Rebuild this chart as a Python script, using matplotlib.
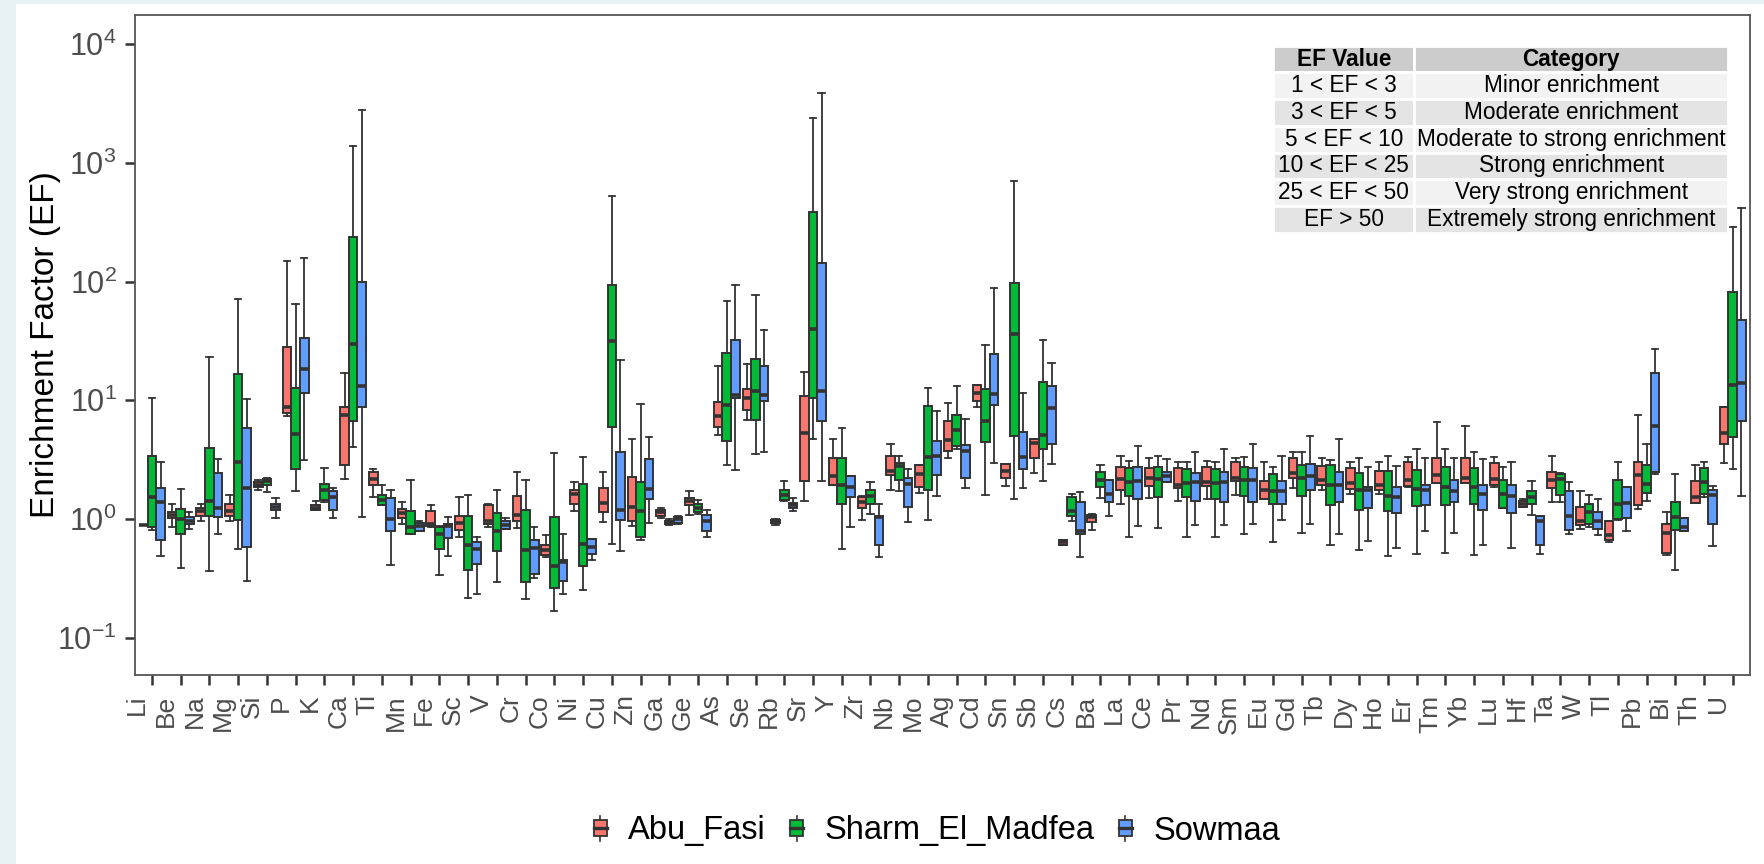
import matplotlib
matplotlib.use("Agg")
import matplotlib.pyplot as plt
from matplotlib.patches import Patch, Rectangle
from matplotlib.lines import Line2D
from matplotlib.legend_handler import HandlerBase
from matplotlib.ticker import LogLocator, NullLocator
import matplotlib.transforms as mtransforms

plt.rcParams['font.family'] = ['Liberation Sans', 'DejaVu Sans']
plt.rcParams['mathtext.fontset'] = 'custom'
plt.rcParams['mathtext.rm'] = 'Liberation Sans'
plt.rcParams['mathtext.it'] = 'Liberation Sans:italic'
plt.rcParams['mathtext.bf'] = 'Liberation Sans:bold'

elements = ["Li", "Be", "Na", "Mg", "Si", "P", "K", "Ca", "Ti", "Mn", "Fe", "Sc", "V", "Cr",
            "Co", "Ni", "Cu", "Zn", "Ga", "Ge", "As", "Se", "Rb", "Sr", "Y", "Zr", "Nb", "Mo",
            "Ag", "Cd", "Sn", "Sb", "Cs", "Ba", "La", "Ce", "Pr", "Nd", "Sm", "Eu", "Gd", "Tb",
            "Dy", "Ho", "Er", "Tm", "Yb", "Lu", "Hf", "Ta", "W", "Tl", "Pb", "Bi", "Th", "U"]

sites = ["Abu_Fasi", "Sharm_El_Madfea", "Sowmaa"]
site_colors = ["#F8766D", "#00BA38", "#619CFF"]

# Abu_Fasi: whisker low, Q1, median, Q3, whisker high
abu_lo = [0.89, 0.86, 0.96, 0.97, 1.77, 7.45, 1.20, 2.19, 1.53, 0.91, 0.86, 0.71, 0.86, 0.84,
          0.48, 1.16, 0.94, 0.875, 1.03, 1.09, 5.12, 6.81, 0.89, 1.43, 1.92, 0.98, 1.75, 1.66,
          3.28, 8.75, 1.90, 2.44, 0.61, 0.81, 1.34, 1.49, 1.43, 1.47, 1.59, 1.47, 1.84, 1.74,
          1.63, 1.63, 1.87, 2.01, 2.01, 1.87, 1.27, 1.39, 0.82, 0.64, 1.22, 0.50, 1.37, 2.97]
abu_q1 = [0.89, 1.03, 1.07, 1.07, 1.87, 7.79, 1.20, 2.84, 1.95, 1.02, 0.875, 0.81, 0.91, 0.97,
          0.50, 1.34, 1.14, 0.97, 1.07, 1.31, 5.96, 8.29, 0.93, 2.08, 1.92, 1.25, 2.33, 1.87,
          3.71, 9.91, 2.23, 3.25, 0.61, 0.94, 1.74, 1.90, 1.84, 1.90, 2.08, 1.47, 2.23, 1.95,
          1.79, 1.74, 1.90, 2.01, 2.01, 1.95, 1.27, 1.82, 0.89, 0.67, 1.31, 0.52, 1.37, 4.25]
abu_med = [0.89, 1.09, 1.17, 1.17, 1.95, 8.75, 1.25, 7.59, 2.19, 1.12, 0.91, 0.93, 0.97, 1.09,
           0.55, 1.63, 1.37, 1.27, 1.14, 1.43, 7.45, 10.5, 0.955, 5.35, 2.29, 1.40, 2.55, 2.40,
           4.64, 11.6, 2.55, 4.36, 0.64, 1.05, 2.19, 2.23, 1.95, 2.04, 2.23, 1.74, 2.44, 2.13,
           2.01, 1.95, 2.13, 2.33, 2.23, 2.19, 1.34, 2.13, 0.97, 0.73, 2.33, 0.765, 1.53, 5.35]
abu_q3 = [0.89, 1.14, 1.25, 1.34, 2.04, 27.9, 1.31, 8.75, 2.49, 1.22, 1.16, 1.07, 1.31, 1.56,
          0.60, 1.74, 1.84, 2.27, 1.20, 1.49, 9.73, 12.5, 0.98, 10.8, 3.25, 1.53, 3.43, 2.84,
          6.69, 13.5, 2.92, 4.69, 0.67, 1.09, 2.72, 2.67, 2.67, 2.72, 3.05, 2.08, 3.25, 2.79,
          2.67, 2.55, 3.00, 3.25, 3.25, 2.97, 1.43, 2.51, 1.27, 0.955, 3.05, 0.91, 2.08, 8.75]
abu_hi = [0.89, 1.33, 1.33, 1.60, 2.12, 150.0, 1.43, 17.1, 2.62, 1.39, 1.31, 1.52, 1.33, 2.49,
          0.73, 2.04, 2.49, 4.77, 1.23, 1.71, 19.5, 20.4, 1.00, 17.4, 4.69, 1.56, 4.32, 2.84,
          9.48, 13.5, 2.92, 4.69, 0.67, 1.11, 3.43, 3.25, 3.05, 3.11, 3.28, 3.05, 3.65, 3.28,
          3.05, 3.05, 3.34, 6.51, 6.12, 3.34, 1.47, 3.40, 1.71, 0.955, 7.59, 1.14, 2.87, 8.75]

# Sharm_El_Madfea
sha_lo = [0.81, 0.39, 0.365, 0.56, 1.68, 1.71, 1.39, 4.06, 1.31, 0.75, 0.34, 0.215, 0.294, 0.213,
          0.168, 0.25, 0.62, 0.67, 0.89, 1.11, 2.84, 3.55, 1.43, 4.77, 0.555, 1.11, 1.71, 0.98,
          3.88, 1.60, 1.48, 2.10, 0.97, 1.49, 0.71, 0.84, 0.71, 0.71, 0.75, 0.64, 0.765, 0.61,
          0.545, 0.49, 0.51, 0.52, 0.50, 1.25, 1.09, 1.39, 0.85, 0.98, 1.43, 0.375, 1.53, 2.62]
sha_q1 = [0.86, 0.75, 1.06, 0.98, 1.95, 2.62, 1.45, 6.75, 1.31, 0.75, 0.56, 0.37, 0.535, 0.294,
          0.26, 0.40, 6.01, 0.71, 0.90, 1.14, 4.56, 6.81, 1.45, 10.5, 1.34, 1.34, 2.13, 1.74,
          4.10, 4.48, 4.99, 3.92, 1.07, 1.87, 1.56, 1.53, 1.53, 1.47, 1.56, 1.34, 1.56, 1.31,
          1.20, 1.17, 1.28, 1.31, 1.33, 1.25, 1.33, 1.59, 0.91, 1.00, 1.66, 0.81, 1.63, 4.90]
sha_med = [1.53, 1.00, 1.43, 3.05, 2.08, 5.17, 1.74, 29.7, 1.45, 0.85, 0.745, 0.60, 0.80, 0.55,
           0.40, 0.62, 31.9, 1.16, 0.94, 1.25, 9.07, 11.9, 1.59, 39.9, 1.92, 1.56, 2.79, 3.34,
           5.60, 6.75, 36.2, 5.12, 1.17, 2.13, 2.04, 2.17, 2.01, 2.01, 2.13, 1.71, 2.23, 1.95,
           1.74, 1.56, 1.79, 1.87, 1.87, 1.63, 1.53, 2.17, 1.14, 1.34, 1.99, 1.05, 2.04, 13.5]
sha_q3 = [3.40, 1.22, 3.99, 16.8, 2.17, 12.7, 1.99, 238.0, 1.59, 1.16, 0.85, 1.06, 1.12, 1.20,
          1.05, 1.99, 93.1, 2.04, 0.97, 1.34, 24.9, 22.1, 1.74, 385.0, 3.28, 1.74, 2.97, 8.9,
          7.59, 12.5, 96.5, 14.3, 1.53, 2.51, 2.67, 2.72, 2.62, 2.62, 2.74, 2.40, 2.87, 2.87,
          2.44, 2.55, 2.60, 2.72, 2.67, 2.13, 1.71, 2.40, 1.33, 2.13, 2.84, 1.40, 2.67, 81.4]
sha_hi = [10.4, 1.79, 23.4, 71.9, 2.23, 64.6, 2.67, 1380.0, 1.92, 2.13, 0.875, 1.60, 1.74, 2.13,
          3.58, 3.31, 531.0, 9.31, 1.00, 1.45, 69.3, 77.9, 2.08, 2399.0, 5.85, 2.04, 3.40, 12.7,
          13.3, 29.2, 700.0, 32.5, 1.63, 2.87, 3.11, 3.43, 3.05, 3.05, 3.33, 2.74, 3.65, 3.13,
          3.28, 3.40, 3.88, 3.88, 3.65, 2.74, 2.08, 2.44, 1.60, 3.00, 4.28, 2.40, 3.00, 289.0]

# Sowmaa
sow_lo = [0.49, 0.82, 0.75, 0.30, 1.02, 3.13, 1.03, 1.05, 0.41, 0.79, 0.49, 0.233, 0.82, 0.32,
          0.233, 0.45, 0.535, 0.93, 0.91, 0.71, 2.60, 3.65, 1.16, 2.08, 0.86, 0.48, 0.94, 1.56,
          1.84, 2.97, 1.82, 2.92, 0.48, 1.07, 0.875, 2.04, 0.89, 0.89, 0.91, 0.98, 0.90, 0.745,
          0.65, 0.575, 0.80, 0.765, 0.61, 0.57, 0.51, 0.745, 0.73, 0.79, 2.40, 0.79, 0.595, 1.56]
sow_q1 = [0.66, 0.90, 1.04, 0.585, 1.20, 11.6, 1.20, 8.75, 0.79, 0.80, 0.69, 0.42, 0.82, 0.343,
          0.30, 0.51, 0.99, 1.47, 0.93, 0.79, 10.5, 9.91, 1.25, 6.75, 1.53, 0.60, 1.27, 2.33,
          2.23, 9.07, 2.62, 4.25, 0.75, 1.40, 1.47, 2.04, 1.43, 1.39, 1.40, 1.34, 1.74, 1.40,
          1.23, 1.12, 1.31, 1.40, 1.20, 1.12, 0.60, 0.81, 0.82, 1.03, 2.51, 0.79, 0.91, 6.69]
sow_med = [1.38, 0.97, 1.25, 1.82, 1.27, 18.2, 1.53, 13.3, 1.00, 0.87, 0.875, 0.56, 0.89, 0.57,
           0.437, 0.585, 1.20, 1.79, 1.00, 0.955, 11.1, 11.1, 1.31, 11.9, 1.87, 1.05, 1.99, 3.43,
           3.71, 11.3, 3.34, 8.67, 0.80, 1.63, 2.10, 2.29, 2.04, 2.04, 2.13, 1.71, 2.29, 1.92,
           1.74, 1.53, 1.74, 1.71, 1.63, 1.56, 0.955, 1.07, 0.97, 1.37, 6.12, 0.85, 1.60, 13.9]
sow_q3 = [1.84, 1.05, 2.44, 5.85, 1.33, 33.4, 1.71, 99.1, 1.49, 0.93, 0.91, 0.64, 0.955, 0.66,
          0.45, 0.68, 3.68, 3.19, 1.05, 1.09, 32.2, 19.5, 1.37, 144.0, 2.31, 1.07, 2.23, 4.56,
          4.17, 24.4, 5.45, 13.3, 1.39, 2.13, 2.72, 2.49, 2.44, 2.51, 2.67, 2.08, 2.92, 2.49,
          1.87, 1.87, 1.95, 2.13, 1.95, 1.95, 1.07, 1.71, 1.14, 1.87, 16.9, 1.03, 1.74, 47.7]
sow_hi = [3.05, 1.14, 3.19, 10.2, 1.49, 158.0, 1.84, 2767.0, 1.74, 0.97, 1.05, 0.70, 1.03, 0.85,
          0.745, 0.68, 21.7, 4.90, 1.07, 1.20, 93.1, 38.8, 1.49, 3849.0, 2.31, 1.35, 2.62, 8.15,
          6.93, 89.1, 11.6, 20.8, 1.68, 2.13, 4.10, 3.19, 3.65, 3.92, 4.25, 3.40, 4.99, 4.69,
          2.72, 2.79, 3.28, 3.28, 3.19, 3.05, 1.07, 2.04, 1.47, 1.87, 27.2, 1.03, 1.90, 421.0]

# EF classification table
ef_ranges = ["1 < EF < 3", "3 < EF < 5", "5 < EF < 10", "10 < EF < 25", "25 < EF < 50", "EF > 50"]
ef_categories = ["Minor enrichment", "Moderate enrichment", "Moderate to strong enrichment",
                 "Strong enrichment", "Very strong enrichment", "Extremely strong enrichment"]

site_data = [
    (abu_lo, abu_q1, abu_med, abu_q3, abu_hi),
    (sha_lo, sha_q1, sha_med, sha_q3, sha_hi),
    (sow_lo, sow_q1, sow_med, sow_q3, sow_hi),
]

edge = "#333333"
tick_grey = "#4d4d4d"

fig = plt.figure(figsize=(17.65, 8.64), dpi=100)
fig.patch.set_facecolor("#e7f2f5")
fig.add_artist(Rectangle((16 / 1765, 0), 1, 860 / 864, transform=fig.transFigure,
                         facecolor="white", edgecolor="none", zorder=-10))

ax = fig.add_axes([134.7 / 1765, 1 - 675 / 864, (1750 - 134.7) / 1765, (675 - 15.3) / 864])
ax.set_facecolor("white")

offsets = [-0.3, 0.0, 0.3]
for (lo, q1, med, q3, hi), color, off in zip(site_data, site_colors, offsets):
    stats = []
    for i in range(len(elements)):
        stats.append({"whislo": lo[i], "q1": q1[i], "med": med[i], "q3": q3[i],
                      "whishi": hi[i], "fliers": []})
    pos = [i + 1 + off for i in range(len(elements))]
    ax.bxp(stats, positions=pos, widths=0.3, capwidths=0.22, patch_artist=True,
           showfliers=False,
           boxprops=dict(facecolor=color, edgecolor=edge, linewidth=1.4),
           medianprops=dict(color=edge, linewidth=2.6, solid_capstyle="butt"),
           whiskerprops=dict(color=edge, linewidth=1.3),
           capprops=dict(color=edge, linewidth=1.3))

ax.set_yscale("log")
ax.set_ylim(10 ** -1.314, 10 ** 4.244)
ax.yaxis.set_major_locator(LogLocator(base=10, numticks=10))
ax.yaxis.set_minor_locator(NullLocator())
ax.set_xlim(0.4, len(elements) + 0.6)
ax.set_xticks(range(1, len(elements) + 1))
ax.set_xticklabels(elements, rotation=90, ha="right", va="top")

ax.tick_params(axis="both", which="major", length=7, width=1.8, color=edge,
               labelcolor=tick_grey, direction="out")
ax.tick_params(axis="y", labelsize=22, pad=6)
ax.tick_params(axis="x", labelsize=19, pad=7)

# nudge rotated element labels left of their ticks
shift = mtransforms.ScaledTranslation(-3 / 100, 0, fig.dpi_scale_trans)
for lab in ax.get_xticklabels():
    lab.set_transform(lab.get_transform() + shift)

for sp in ax.spines.values():
    sp.set_color("#555555")
    sp.set_linewidth(1.3)

fig.text(46 / 1765, 1 - 345 / 864, "Enrichment Factor (EF)", rotation=90,
         ha="center", va="center", fontsize=24, color="black")

# classification table in the upper right corner of the panel
tbl = ax.table(cellText=[[r, c] for r, c in zip(ef_ranges, ef_categories)],
               colLabels=["EF Value", "Category"], cellLoc="center",
               colWidths=[0.31, 0.69], bbox=[0.7049, 0.6705, 0.2817, 0.2834])
tbl.auto_set_font_size(False)
tbl.set_fontsize(16.3)
for (r, c), cell in tbl.get_celld().items():
    cell.set_edgecolor("white")
    cell.set_linewidth(2)
    cell.PAD = 0.02
    if r == 0:
        cell.set_facecolor("#cccccc")
        cell.get_text().set_fontweight("bold")
    elif r % 2 == 1:
        cell.set_facecolor("#f2f2f2")
    else:
        cell.set_facecolor("#e4e4e4")


class BoxKey(HandlerBase):
    def create_artists(self, legend, orig_handle, xdescent, ydescent, width, height,
                       fontsize, trans):
        x0, y0 = -xdescent, -ydescent
        cx = x0 + width / 2
        bw = width * 0.8
        whisker = Line2D([cx, cx], [y0, y0 + height], color=edge, lw=1.2, transform=trans)
        box = Rectangle((cx - bw / 2, y0 + height * 0.18), bw, height * 0.64,
                        facecolor=orig_handle.get_facecolor(), edgecolor=edge, lw=1.3,
                        transform=trans)
        mid = Line2D([cx - bw / 2, cx + bw / 2], [y0 + height / 2] * 2, color=edge, lw=2.4,
                     transform=trans)
        return [whisker, box, mid]


handles = [Patch(facecolor=c, edgecolor=edge) for c in site_colors]
fig.legend(handles, sites, handler_map={Patch: BoxKey()}, loc="center",
           bbox_to_anchor=(936 / 1765, 1 - 831 / 864), ncol=3, frameon=False, fontsize=23.5,
           handlelength=0.5, handleheight=0.8, handletextpad=0.6, columnspacing=0.7)

fig.savefig("out.png", dpi=100, facecolor=fig.get_facecolor())
